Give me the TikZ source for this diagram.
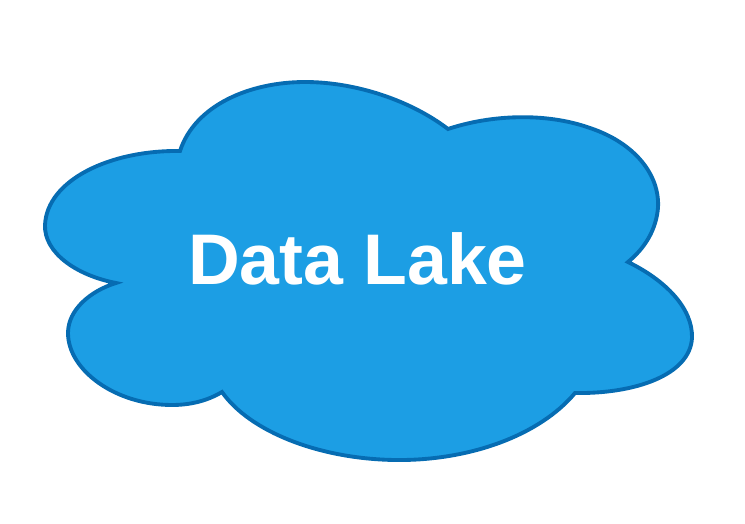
\documentclass[tikz,border=0pt]{standalone}
\usepackage{fontspec}
\setmainfont{Liberation Sans}
\definecolor{lake}{RGB}{28,158,228}
\definecolor{lakeline}{RGB}{6,108,178}
\begin{document}
\begin{tikzpicture}[x=0.02cm, y=-0.02cm,
  cloud/.style={draw=lakeline, fill=lake, line width=2.2pt, miter limit=6},
  lab/.style={font=\fontsize{40.8}{48}\selectfont\bfseries, text=white, inner sep=0pt}]
  \useasboundingbox (0,0) rectangle (745,524);
  \draw[cloud] (180,151)
    .. controls (195,105) and (250,82) .. (305,82)
    .. controls (355,82) and (410,100) .. (448,129)
    .. controls (490,115) and (545,112) .. (590,128)
    .. controls (635,143) and (660,175) .. (658,208)
    .. controls (656,230) and (645,248) .. (628,262)
    .. controls (665,280) and (693,308) .. (692,338)
    .. controls (690,375) and (635,394) .. (575,393)
    .. controls (540,435) and (470,461) .. (395,460)
    .. controls (320,459) and (250,432) .. (222,392)
    .. controls (207,401) and (190,405) .. (172,405)
    .. controls (115,405) and (68,370) .. (68,333)
    .. controls (68,310) and (90,291) .. (116,283)
    .. controls (75,275) and (44,252) .. (45,225)
    .. controls (47,180) and (110,150) .. (180,151) -- cycle;
  \node[lab] (lake) at (357.5,259) {Data Lake};
\end{tikzpicture}
\end{document}
